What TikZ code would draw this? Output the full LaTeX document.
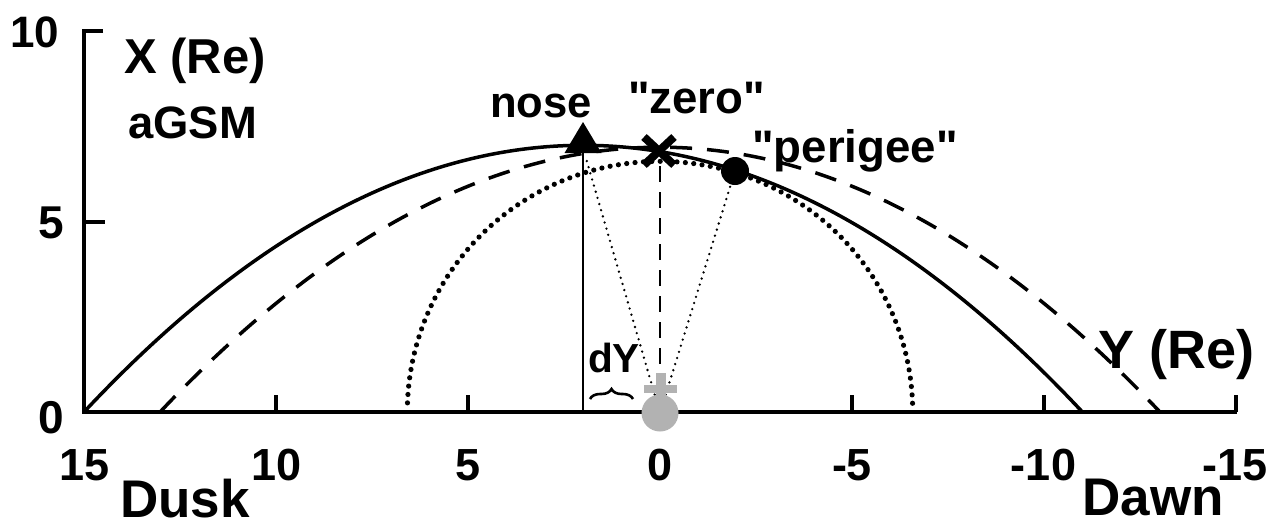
\documentclass[tikz,border=0pt]{standalone}
\usepackage{fontspec}
\setmainfont{Liberation Sans}
\newfontfamily\qfont{Liberation Sans}
\usetikzlibrary{decorations.pathreplacing,calc}
\begin{document}
\begin{tikzpicture}[x=0.5pt,y=-0.5pt,
  lbl/.style={font=\bfseries\fontsize{#1}{#1}\selectfont, inner sep=0pt, anchor=base},
  lbl/.default=22,
  qlbl/.style={font=\qfont\bfseries\fontsize{#1}{#1}\selectfont, inner sep=0pt, anchor=base},
  axisline/.style={line width=1.9pt},
  solidcurve/.style={line width=1.75pt},
  dashcurve/.style={line width=1.75pt, dash pattern=on 11pt off 7.5pt},
  dotcurve/.style={line width=2.6pt, line cap=round, dash pattern=on 0pt off 4.2pt},
  thindots/.style={line width=1.3pt, line cap=round, dash pattern=on 0pt off 3.2pt},
  thindash/.style={line width=1.1pt, dash pattern=on 8pt off 5pt},
  earthgray/.style={fill=black!30}
]
\useasboundingbox (0,0) rectangle (1283,525);

% axes
\draw[axisline] (103,31) -- (84,31) -- (84,412) -- (1237,412);
\draw[axisline] (84,222) -- (105,222);
\foreach \px in {276,468,852,1044,1236} \draw[axisline] (\px,412) -- (\px,395);

% coordinates
\coordinate (E) at (660,413);
\coordinate (N) at (583,148);
\coordinate (P) at (735,171);
\coordinate (Z) at (660,151);

% thin dotted lines from Earth
\draw[thindots] (E) -- ($(E)!0.955!(N)$);
\draw[thindots] (E) -- (P);
% vertical lines
\draw[line width=1pt] (583,150) -- (583,412);
\draw[thindash] (660,166) -- (660,375);

% curves
\draw[solidcurve] plot[domain=15:-11, samples=120, smooth] ({660-38.4*\x},{412-38.1*(7-(\x-2)*(\x-2)/24.1429)});
\draw[dashcurve] plot[domain=13.02:-13.02, samples=120, smooth] ({660-38.4*\x},{412-38.1*(6.95-6.95*\x*\x/169.5)});
\draw[dotcurve] plot[domain=2:178, samples=150, smooth] ({660+252.7*cos(\x)},{412-250.7*sin(\x)});

% markers
\fill (583,122) -- (564.5,153) -- (601.5,153) -- cycle;
\draw[line width=4pt] (644,137) -- (674,165) (644,165) -- (674,137);
\fill (P) circle (7pt);

% Earth symbol
\fill[earthgray] (E) circle (9.25pt);
\fill[earthgray] (644,385) rectangle (677,393);
\fill[earthgray] (655.5,373) rectangle (665.5,396);

% brace
\draw[decorate, decoration={brace, amplitude=5pt}, line width=1.3pt] (590,399) -- (633,399);

% labels
\node[lbl=22] (t10) at (35,47) {10};
\node[lbl=23] (t5) at (51,238) {5};
\node[lbl=23] (t0) at (51,433) {0};
\node[lbl=22.5] (x15) at (85,480) {15};
\node[lbl=22.5] (x10) at (277,480) {10};
\node[lbl=22.5] (x5) at (468,480) {5};
\node[lbl=22.5] (x0) at (660,480) {0};
\node[lbl=22.5] (xm5) at (852,480) {-5};
\node[lbl=22.5] (xm10) at (1043.5,480) {-10};
\node[lbl=22.5] (xm15) at (1235,480) {-15};
\node[lbl=26.5] (dusk) at (185,517) {Dusk};
\node[lbl=26.5] (dawn) at (1153,515) {Dawn};
\node[lbl=24.5] (xre) at (195,73) {X (Re)};
\node[lbl=22.7] (agsm) at (192.5,138) {aGSM};
\node[lbl=21.8] (nose) at (541,117) {nose};
\node[qlbl=22.8] (zero) at (696.5,113) {"zero"};
\node[qlbl=22.8] (peri) at (855,162) {"perigee"};
\node[lbl=27] (yre) at (1176.5,368) {Y (Re)};
\node[lbl=20.3] (dy) at (614,372) {dY};
\end{tikzpicture}
\end{document}
